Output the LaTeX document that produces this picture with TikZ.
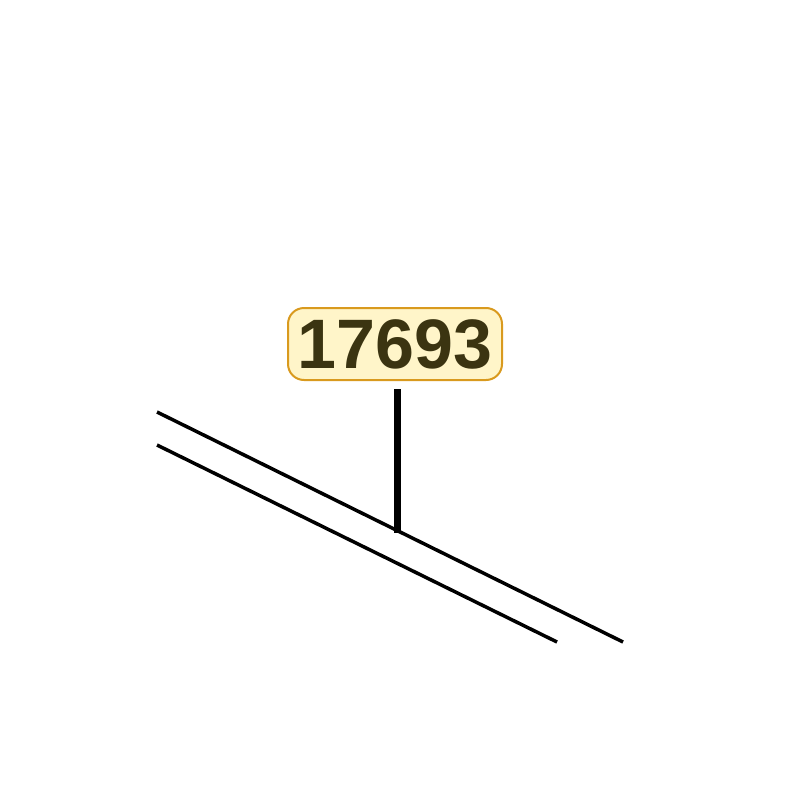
\documentclass[tikz,border=0pt]{standalone}
\usepackage{fontspec}
\setmainfont{Liberation Sans}
\usetikzlibrary{positioning}

\definecolor{tagfill}{HTML}{FFF5C9}
\definecolor{tagedge}{HTML}{D99A1E}
\definecolor{tagtext}{HTML}{3B3411}

\begin{document}
\begin{tikzpicture}[x=1pt, y=-1pt,
                    every node/.style={draw=tagedge, fill=tagfill, rounded corners=16pt, line width=2pt,
                                       minimum width=214pt, minimum height=72pt, inner sep=0pt,
                                       text=tagtext, font=\fontsize{70}{70}\selectfont\bfseries},
                    rail/.style={line width=3.5pt},
                    pointer/.style={line width=7pt}]
    \useasboundingbox (0,0) rectangle (800,800);
    % Part label
        \node (tag) at (395,344) {\raisebox{-2pt}{17693}};
    % Rails
        \coordinate (upA) at (157,412);
        \coordinate (upB) at (623,642);
        \coordinate (loA) at (157,445);
        \coordinate (loB) at (557,642);
        \draw[rail] (upA) -- (upB);
        \draw[rail] (loA) -- (loB);
    % Leader
        \coordinate (foot) at (397,533);
        \draw[pointer, shorten <=8pt] (foot |- tag.south) -- (foot);
\end{tikzpicture}
\end{document}
